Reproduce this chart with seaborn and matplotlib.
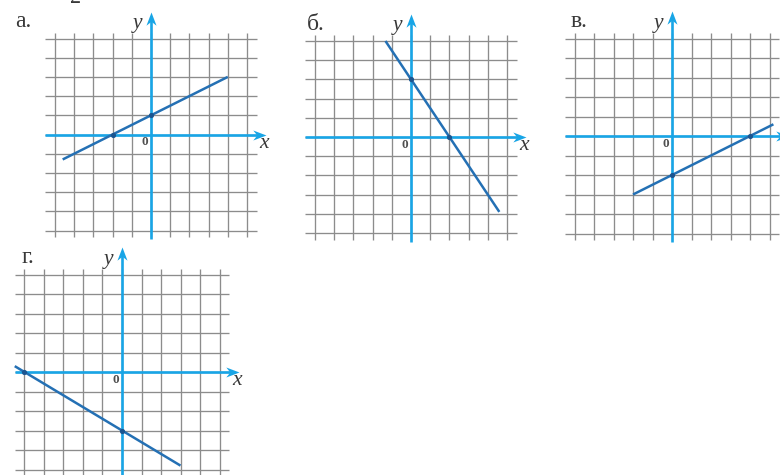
import matplotlib
matplotlib.use("Agg")
import matplotlib.pyplot as plt
import seaborn as sns
import numpy as np

# panel data (graph units)
panel_labels = ['а.', 'б.', 'в.', 'г.']
line_x = [[-4.6, 4.0], [-1.33, 4.6], [-2.0, 5.2], [-5.5, 3.0]]
line_y = [[-1.3, 3.0], [5.0, -3.9], [-3.0, 0.6], [0.3, -4.8]]
dot_x = [[-2, 0], [0, 2], [0, 4], [-5, 0]]
dot_y = [[0, 1], [3, 0], [-2, 0], [0, -3]]
grid_ticks = list(range(-5, 6))

# layout: origin in pixels and cell size in pixels for each panel
W, H = 780, 475
origins = [(151, 134.5), (411, 137), (672, 136), (122, 372)]
cells = [19.2, 19.2, 19.5, 19.5]
label_px = [(23, 27), (316, 30), (579, 27), (28, 263)]
XLIM = (-6.2, 6.6)
YLIM = (-5.8, 6.8)

GRID_C = '#8c8c8c'
AXIS_C = '#18a5e6'
LINE_C = '#2470b4'
DOT_C = '#1b5590'
TEXT_C = '#383838'

XARROW = [(0, 0), (-1, 0.38), (-0.7, 0), (-1, -0.38), (0, 0)]
YARROW = [(0, 0), (0.38, -1), (0, -0.7), (-0.38, -1), (0, 0)]


def set_style():
    sns.set_theme(style="white")
    plt.rcParams['font.family'] = ['Liberation Serif', 'DejaVu Serif']


def make_axes(fig, origin, c):
    ox, oy = origin
    left = ox + XLIM[0] * c
    width = (XLIM[1] - XLIM[0]) * c
    top = oy - YLIM[1] * c
    height = (YLIM[1] - YLIM[0]) * c
    ax = fig.add_axes([left / W, 1 - (top + height) / H, width / W, height / H])
    ax.set_xlim(*XLIM)
    ax.set_ylim(*YLIM)
    ax.set_axis_off()
    ax.patch.set_alpha(0)
    return ax


def draw_panel(ax, i):
    # grid with small overhang past the last lines
    ax.vlines(grid_ticks, -5.35, 5.3, color=GRID_C, lw=0.95, zorder=1)
    ax.hlines(grid_ticks, -5.5, 5.5, color=GRID_C, lw=0.95, zorder=1)

    # coordinate axes with arrows
    ax.plot([-5.5, 5.6], [0, 0], color=AXIS_C, lw=1.9, solid_capstyle='butt', zorder=2)
    ax.plot([0, 0], [-5.45, 6.0], color=AXIS_C, lw=1.9, solid_capstyle='butt', zorder=2)
    ax.plot([6.0], [0], marker=XARROW, ms=19, color=AXIS_C, mew=0, zorder=2, clip_on=False)
    ax.plot([0], [6.4], marker=YARROW, ms=19, color=AXIS_C, mew=0, zorder=2, clip_on=False)

    # the graph itself
    sns.lineplot(x=line_x[i], y=line_y[i], ax=ax, color=LINE_C, linewidth=1.8,
                 zorder=3, solid_capstyle='butt')
    ax.scatter(dot_x[i], dot_y[i], s=14, color=DOT_C, zorder=4, linewidths=0)

    ax.text(-0.7, 5.55, 'y', ha='center', va='baseline', fontsize=15.5,
            style='italic', color=TEXT_C, clip_on=False)
    ax.text(5.88, -0.68, 'x', ha='center', va='baseline', fontsize=15.5,
            style='italic', color=TEXT_C, clip_on=False)
    ax.text(-0.34, -0.56, '0', ha='center', va='baseline', fontsize=9.5,
            fontweight='bold', color='#505050', clip_on=False)


def main():
    set_style()
    fig = plt.figure(figsize=(W / 100, H / 100), dpi=100)
    fig.patch.set_facecolor('white')

    for i in range(len(panel_labels)):
        ax = make_axes(fig, origins[i], cells[i])
        draw_panel(ax, i)
        lx, ly = label_px[i]
        fig.text(lx / W, 1 - ly / H, panel_labels[i], ha='center', va='baseline',
                 fontsize=17, color=TEXT_C)

    # bit of the previous line cut off at the top
    fig.text(76 / W, 1 - 3 / H, '2', ha='center', va='baseline', fontsize=16, color=TEXT_C)

    fig.savefig('out.png', dpi=100)
    plt.close(fig)


if __name__ == "__main__":
    main()
